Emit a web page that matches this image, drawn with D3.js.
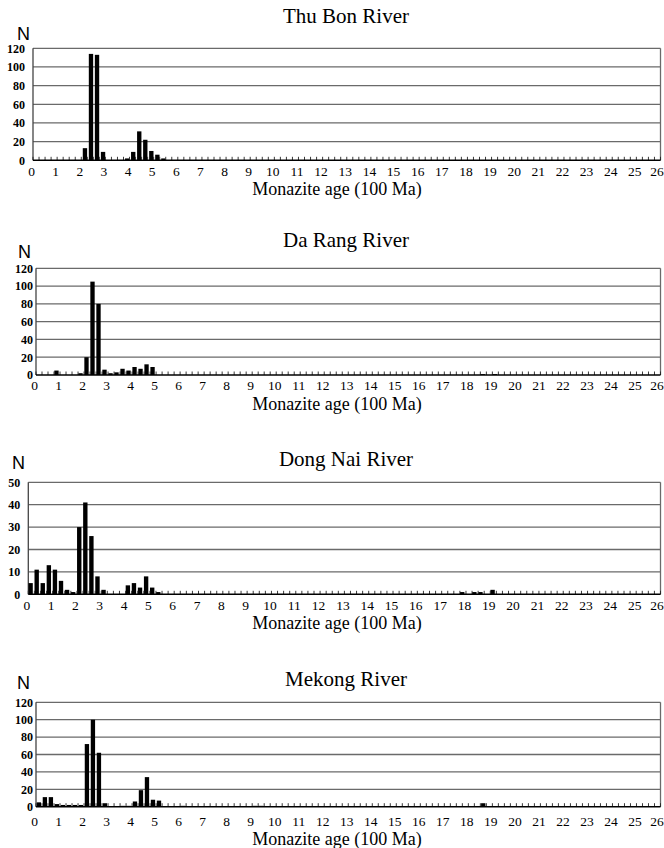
<!DOCTYPE html>
<html><head><meta charset="utf-8">
<script src="https://cdn.jsdelivr.net/npm/d3@7"></script>
<style>
body{margin:0;background:#fff}svg{display:block}
.serif{font-family:"Liberation Serif","DejaVu Serif","Times New Roman",serif}
.sans{font-family:"Liberation Sans","DejaVu Sans",Arial,sans-serif}
</style>
</head><body>
<svg id="c" width="664" height="848"></svg>
<script>
// Bin width 0.25 (25 Ma); only non-zero bins listed (bin start age in 100 Ma)
const xTickLabels = d3.range(0, 27);
const riverNames = ["Thu Bon River", "Da Rang River", "Dong Nai River", "Mekong River"];

const thuBonAges   = [2.0, 2.25, 2.5, 2.75, 3.75, 4.0, 4.25, 4.5, 4.75, 5.0, 5.25];
const thuBonCounts = [13, 114, 113, 9, 2, 9, 31, 22, 10, 6, 2];

const daRangAges   = [0.75, 1.75, 2.0, 2.25, 2.5, 2.75, 3.0, 3.25, 3.5, 3.75, 4.0, 4.25, 4.5, 4.75, 18.5, 19.0];
const daRangCounts = [5, 2, 20, 105, 80, 6, 2, 3, 7, 5, 9, 7, 12, 9, 1, 1];

const dongNaiAges   = [0, 0.25, 0.5, 0.75, 1.0, 1.25, 1.5, 1.75, 2.0, 2.25, 2.5, 2.75, 3.0, 4.0, 4.25, 4.5, 4.75, 5.0, 5.25, 17.75, 18.25, 18.5, 19.0];
const dongNaiCounts = [5, 11, 5, 13, 11, 6, 2, 1, 30, 41, 26, 8, 2, 4, 5, 3, 8, 3, 1, 1, 1, 1, 2];

const mekongAges   = [0, 0.25, 0.5, 0.75, 1.0, 1.25, 1.5, 1.75, 2.0, 2.25, 2.5, 2.75, 3.5, 3.75, 4.0, 4.25, 4.5, 4.75, 5.0, 6.0, 9.0, 9.25, 18.5];
const mekongCounts = [5, 11, 11, 3, 2, 2, 2, 2, 72, 100, 62, 4, 1, 1, 6, 19, 34, 8, 7, 1, 1, 1, 4];

const yMaxes = [120, 120, 50, 120];
const yStepSizes = [20, 20, 10, 20];
const binWidth = 0.25;

const agesList = [thuBonAges, daRangAges, dongNaiAges, mekongAges];
const countsList = [thuBonCounts, daRangCounts, dongNaiCounts, mekongCounts];

// layout (pixels)
const layout = [
  {left: 33,   right: 660.5, top: 48.3,  base: 160.3, titleY: 23,  nY: 39.5, nX: 17, labY: 175.5, xtY: 195, barOff: 0.25, yPad: 8},
  {left: 36,   right: 660.5, top: 268.3, base: 375,   titleY: 247, nY: 258,  nX: 18, labY: 390, xtY: 410, barOff: 0.05, yPad: 3},
  {left: 28.3, right: 660.5, top: 482.3, base: 594.3, titleY: 466, nY: 469,  nX: 12, labY: 610, xtY: 629, barOff: 0.02, yPad: 8},
  {left: 36,   right: 660.5, top: 702.3, base: 806.7, titleY: 686, nY: 689,  nX: 17, labY: 826, xtY: 845, barOff: 0.12, yPad: 3}
];

const svg = d3.select("#c");

riverNames.forEach((name, i) => {
  const L = layout[i];
  const x = d3.scaleLinear().domain([0, 26]).range([L.left, L.right]);
  const y = d3.scaleLinear().domain([0, yMaxes[i]]).range([L.base, L.top]);
  const g = svg.append("g");
  const bw = x(binWidth) - x(0);

  // gridlines
  const yt = d3.range(yStepSizes[i], yMaxes[i] + 0.001, yStepSizes[i]);
  g.selectAll(".grid").data(yt).join("line")
    .attr("x1", L.left).attr("x2", L.right)
    .attr("y1", d => y(d)).attr("y2", d => y(d))
    .attr("stroke", "#6a6a6a").attr("stroke-width", 1.3);
  g.append("line").attr("x1", L.right).attr("x2", L.right)
    .attr("y1", L.top).attr("y2", L.base).attr("stroke", "#6a6a6a").attr("stroke-width", 1.3);
  g.append("line").attr("x1", L.left).attr("x2", L.left)
    .attr("y1", L.top).attr("y2", L.base).attr("stroke", "#444").attr("stroke-width", 1.3);

  // y labels
  const yAxis = d3.axisLeft(y).tickValues(d3.range(0, yMaxes[i] + 0.001, yStepSizes[i]))
    .tickSize(0).tickPadding(L.yPad).tickFormat(d3.format("d"));
  const ya = g.append("g").attr("transform", `translate(${L.left},0)`).call(yAxis);
  ya.attr("font-family", null).attr("font-size", null);
  ya.select(".domain").remove();
  ya.selectAll("text").attr("class", "serif").style("font-size", "12px")
    .style("font-weight", "bold").attr("fill", "#000");

  // bars
  const data = agesList[i].map((a, k) => ({age: a, n: countsList[i][k]}));
  g.selectAll(".bar").data(data).join("rect")
    .attr("x", d => x(d.age) + bw * L.barOff)
    .attr("width", bw * 0.72)
    .attr("y", d => y(d.n))
    .attr("height", d => y(0) - y(d.n))
    .attr("fill", "#000");

  // baseline with bin ticks
  const binEdges = d3.range(0, 26 + 0.001, binWidth);
  g.selectAll(".tk").data(binEdges).join("line")
    .attr("x1", d => x(d)).attr("x2", d => x(d))
    .attr("y1", L.base).attr("y2", L.base - 3.5)
    .attr("stroke", "#222").attr("stroke-width", 0.9);
  g.append("line").attr("x1", L.left).attr("x2", L.right)
    .attr("y1", L.base).attr("y2", L.base).attr("stroke", "#000").attr("stroke-width", 1.6);

  // x labels
  g.selectAll(".xl").data(xTickLabels).join("text")
    .attr("class", "serif")
    .attr("x", d => x(d) - (d === 26 ? 3.5 : 1.5)).attr("y", L.labY)
    .attr("text-anchor", "middle").style("font-size", "13.5px")
    .attr("fill", "#000").text(d => d);

  // x title
  g.append("text").attr("class", "serif").attr("x", 337).attr("y", L.xtY).attr("text-anchor", "middle")
    .style("font-size", "18px").attr("fill", "#000")
    .text("Monazite age (100 Ma)");

  // panel title
  g.append("text").attr("class", "serif").attr("x", 346).attr("y", L.titleY).attr("text-anchor", "middle")
    .style("font-size", "21px").attr("fill", "#000").text(name);

  // N label
  g.append("text").attr("class", "sans").attr("x", L.nX).attr("y", L.nY)
    .style("font-size", "18px").attr("fill", "#000").text("N");
});
</script>
</body></html>
